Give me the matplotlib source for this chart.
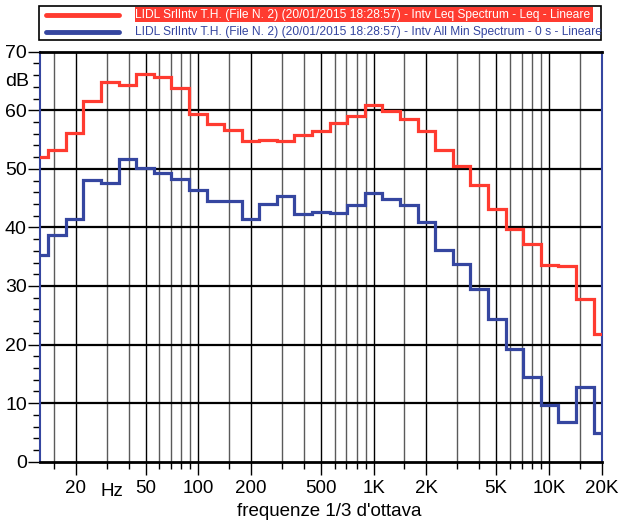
import numpy as np
import matplotlib.pyplot as plt
from matplotlib.patches import Rectangle
from matplotlib.lines import Line2D

# 1/3 octave bands 12.5 Hz .. 20 kHz
band_index = np.arange(-19, 14)
centers = 1000 * 2.0 ** (band_index / 3)
edges = np.append(centers * 2 ** (-1 / 6), centers[-1] * 2 ** (1 / 6))

leq = [52.0, 53.2, 56.2, 61.6, 64.8, 64.3, 66.2, 65.7, 63.8, 59.4, 57.7,
       56.6, 54.8, 55.0, 54.8, 55.7, 56.5, 57.9, 59.0, 60.9, 59.9, 58.5,
       56.5, 53.2, 50.4, 47.2, 43.1, 39.8, 37.2, 33.6, 33.4, 27.7, 21.8]
min_spec = [35.3, 38.7, 41.4, 48.1, 47.5, 51.6, 50.1, 49.3, 48.3, 46.4, 44.5,
            44.5, 41.4, 44.0, 45.4, 42.3, 42.7, 42.5, 43.9, 45.8, 44.8, 43.9,
            41.0, 36.1, 33.7, 29.5, 24.4, 19.2, 14.5, 9.7, 6.8, 12.7, 4.9]

legend_labels = [
    "LIDL SrlIntv T.H. (File N. 2) (20/01/2015 18:28:57) - Intv Leq Spectrum - Leq - Lineare",
    "LIDL SrlIntv T.H. (File N. 2) (20/01/2015 18:28:57) - Intv All Min Spectrum - 0 s - Lineare",
]
tick_freqs = [20, 50, 100, 200, 500, 1000, 2000, 5000, 10000, 20000]
tick_names = ["20", "50", "100", "200", "500", "1K", "2K", "5K", "10K", "20K"]

RED = "#ff3b30"
BLUE = "#3546a0"
W, H = 621, 524
plt.rcParams['font.family'] = ["Liberation Sans", "DejaVu Sans"]

fig = plt.figure(figsize=(W / 100, H / 100), dpi=100)
ax = fig.add_axes([40 / W, 1 - 461.7 / H, 561.7 / W, 410 / H])

ax.set_xscale('log')
ax.set_xlim(12.5, 20000)
ax.set_ylim(0, 70)

# vertical grid: 1, 1.5, 2..9 per decade
grid_freqs = []
for dec in [10, 100, 1000, 10000]:
    for m in [1, 1.5, 2, 3, 4, 5, 6, 7, 8, 9]:
        f = m * dec
        if 12.5 < f < 20000:
            grid_freqs.append(f)
for f in grid_freqs:
    col = 'black' if f in tick_freqs else '#5a5a5a'
    ax.axvline(f, color=col, lw=1.0, zorder=1)
for yv in range(10, 70, 10):
    ax.axhline(yv, color='black', lw=1.6, zorder=1)

ax.stairs(leq, edges, color=RED, lw=2.3, baseline=None, zorder=3)
ax.stairs(min_spec, edges, color=BLUE, lw=2.3, baseline=None, zorder=3)

# ticks
ax.set_xticks(tick_freqs)
ax.set_xticklabels(tick_names)
ax.set_xticks([f for f in grid_freqs if f not in tick_freqs], minor=True)
ax.xaxis.set_minor_formatter(plt.NullFormatter())
ax.tick_params(axis='x', which='major', direction='out', length=9.5, width=1,
               pad=4, labelsize=13.5)
ax.tick_params(axis='x', which='minor', direction='out', length=5, width=1)
ax.set_yticks(range(0, 71, 10))
ax.set_yticks(range(0, 71, 2), minor=True)
ax.tick_params(axis='y', which='major', direction='out', length=8.5, width=1,
               pad=1, labelsize=14)
ax.tick_params(axis='y', which='minor', direction='out', length=5, width=1)

ax.text(32, -0.052, "Hz", transform=ax.get_xaxis_transform(), ha='center',
        va='top', fontsize=13.5)
fig.text(29 / W, 1 - 82 / H, "dB", ha='right', va='center', fontsize=14)
fig.text(329 / W, 1 - 512 / H, "frequenze 1/3 d'ottava", ha='center',
         va='center', fontsize=13.5)

for side in ['top', 'bottom']:
    ax.spines[side].set_linewidth(2)
ax.spines['left'].set_color(BLUE)
ax.spines['right'].set_color(BLUE)
ax.spines['left'].set_linewidth(1.5)
ax.spines['right'].set_linewidth(1.5)

# legend box drawn by hand
fig.patches.append(Rectangle((39 / W, 1 - 40 / H), 562 / W, 34 / H,
                             transform=fig.transFigure, facecolor='white',
                             edgecolor='black', lw=1.2))
fig.patches.append(Rectangle((135 / W, 1 - 22 / H), 458 / W, 15 / H,
                             transform=fig.transFigure, facecolor=RED,
                             edgecolor='none'))
for y, col in [(15.3, RED), (32.3, BLUE)]:
    fig.lines.append(Line2D([46 / W, 119 / W], [1 - y / H, 1 - y / H],
                            transform=fig.transFigure, color=col, lw=3.5,
                            solid_capstyle='round'))
t1 = fig.text(135 / W, 1 - 15 / H, legend_labels[0], color='white',
              fontsize=10, va='center', ha='left')
t2 = fig.text(135 / W, 1 - 32 / H, legend_labels[1], color=BLUE,
              fontsize=10, va='center', ha='left')

# shrink legend text so it fits the same width as in the reference
renderer = fig.canvas.get_renderer()
for t, target in [(t1, 456), (t2, 466)]:
    w = t.get_window_extent(renderer).width
    t.set_fontsize(10 * target / w)

fig.savefig('out.png', dpi=100)
